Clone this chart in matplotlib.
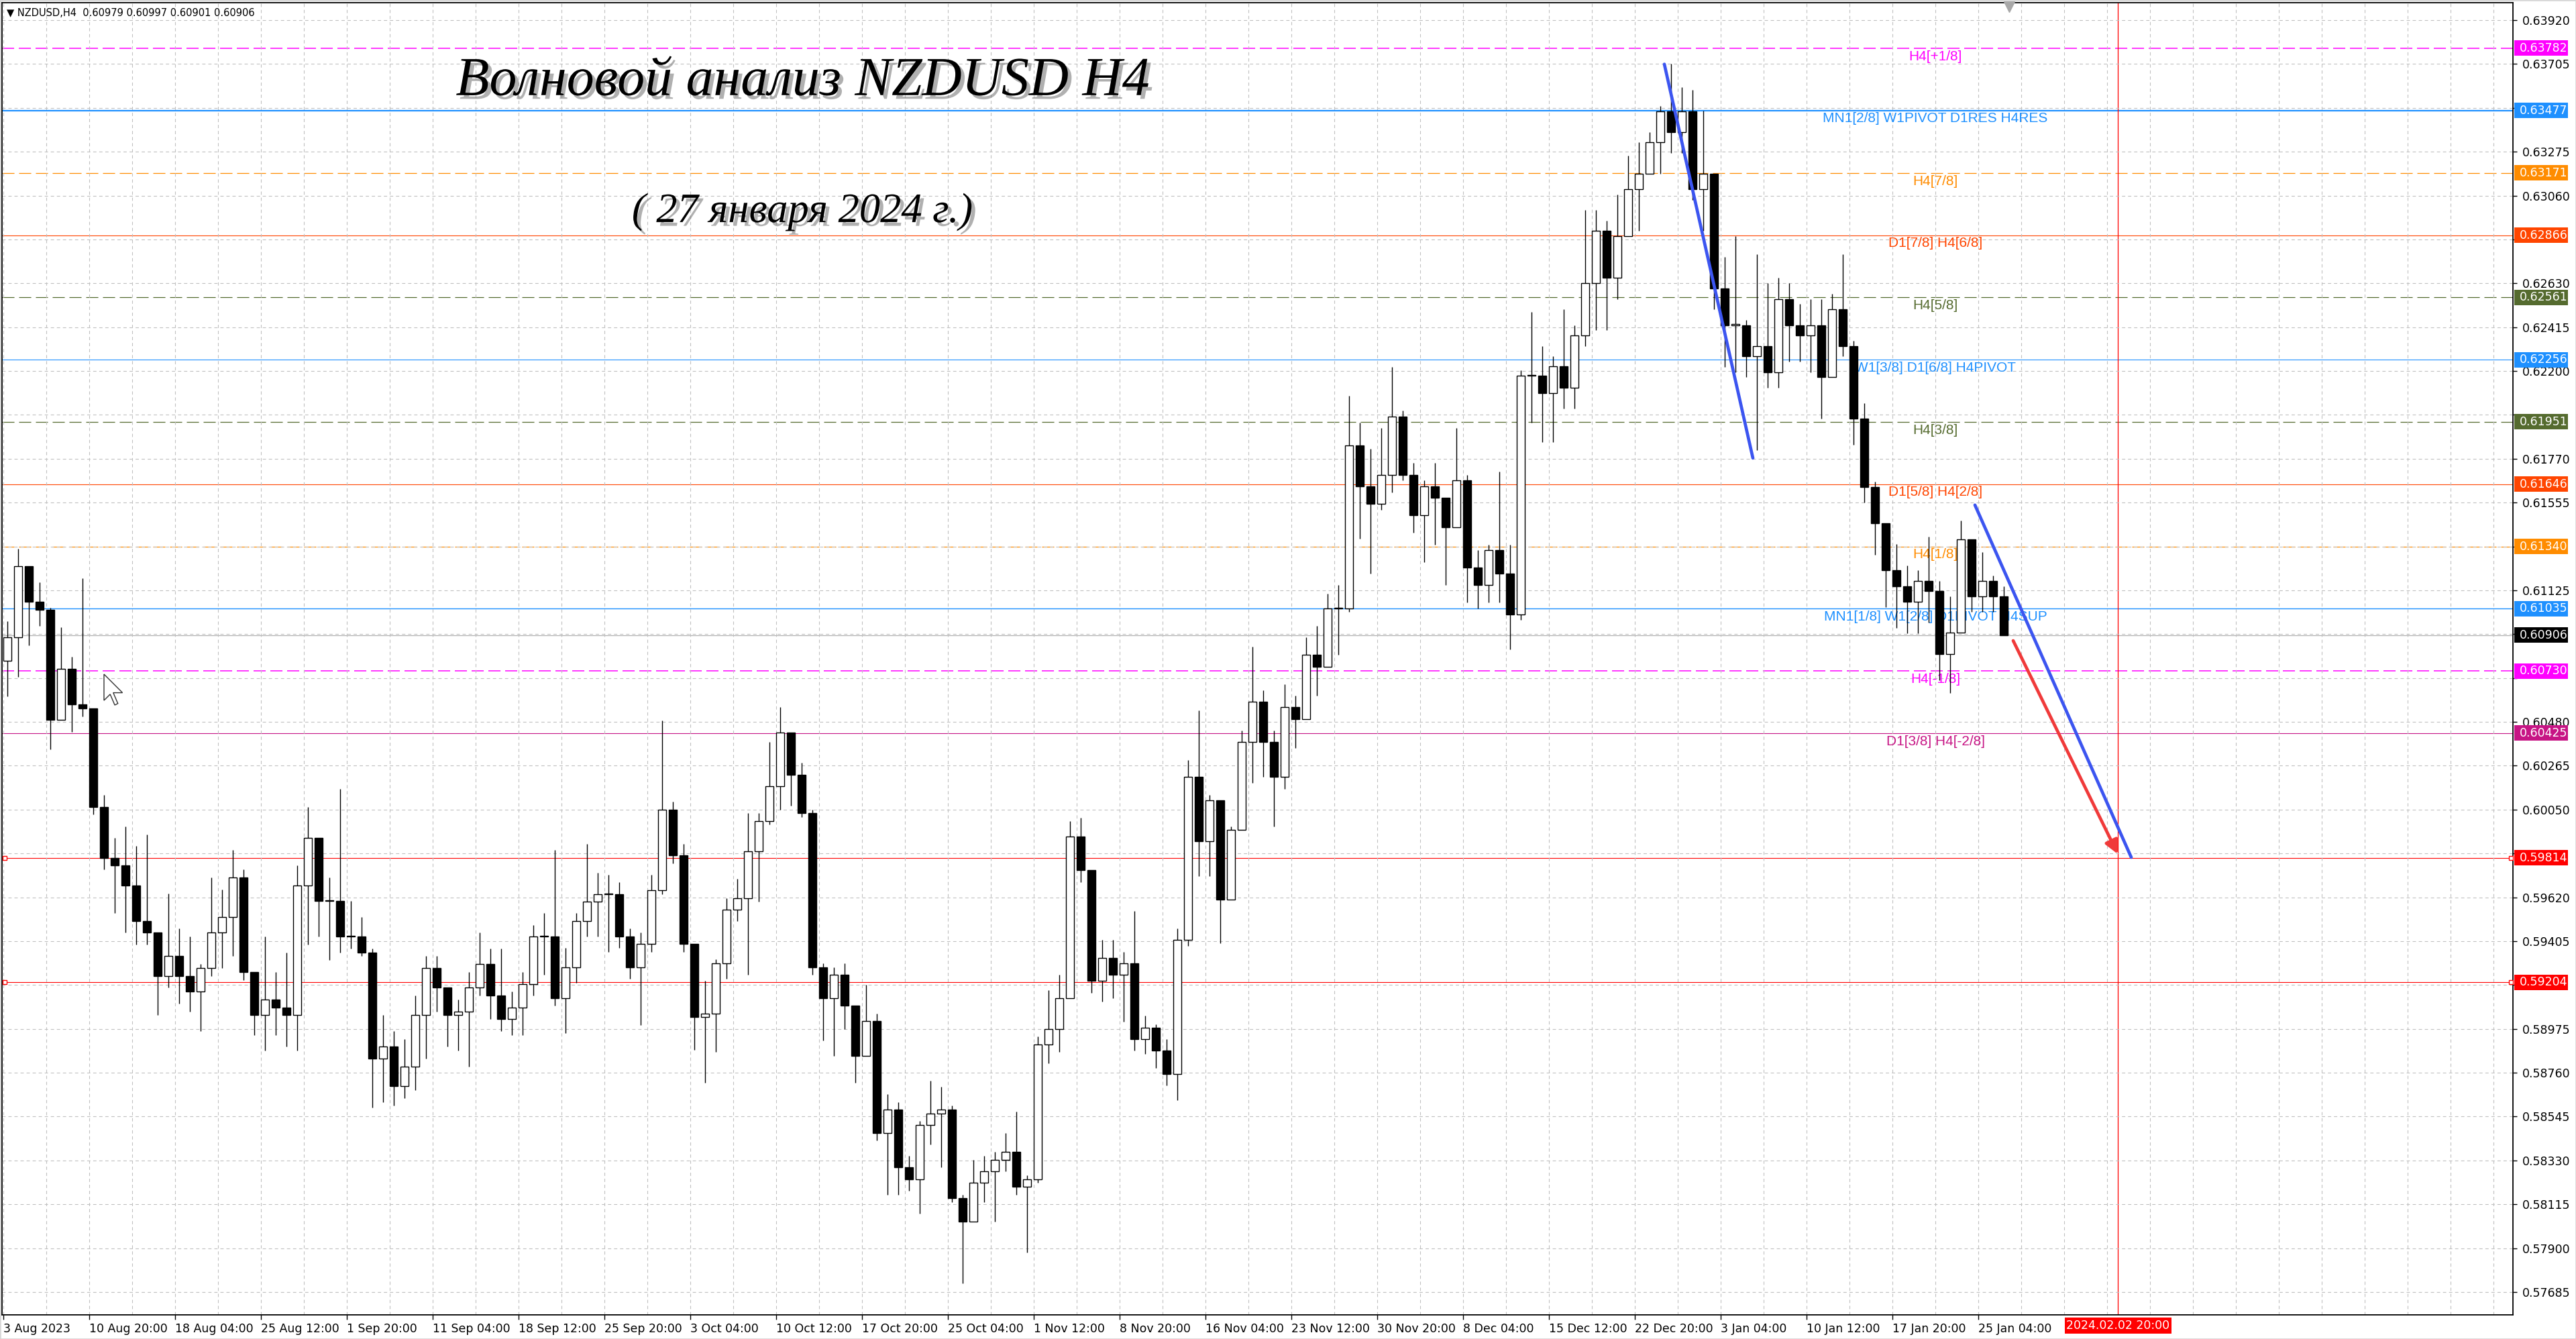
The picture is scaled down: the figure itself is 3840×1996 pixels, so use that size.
import matplotlib.pyplot as plt
import matplotlib.patheffects as pe
from matplotlib.patches import Rectangle, Polygon
from matplotlib.transforms import blended_transform_factory

plt.rcParams['lines.scale_dashes'] = False

# H4 candles, grouped by 4 bars (x = bar index)
first_open = 0.60779
closes = [
    .60894, .61242, .61068, .61029, .60489, .60740, .60566, .60547, .60064, .59814,
    .59775, .59678, .59505, .59447, .59235, .59331, .59235, .59157, .59273, .59447,
    .59524, .59717, .59254, .59042, .59119, .59080, .59042, .59678, .59910, .59601,
    .59601, .59428, .59428, .59350, .58829, .58887, .58694, .58791, .59042, .59273,
    .59177, .59042, .59061, .59177, .59292, .59138, .59022, .59080, .59196, .59428,
    .59428, .59126, .59277, .59504, .59598, .59636, .59636, .59428, .59277, .59391,
    .59655, .60051, .59825, .59391, .59032, .59051, .59296, .59561, .59617, .59844,
    .59995, .60165, .60429, .60221, .60033, .59277, .59126, .59240, .59089, .58843,
    .59013, .58466, .58579, .58296, .58239, .58503, .58560, .58579, .58145, .58031,
    .58220, .58277, .58333, .58371, .58201, .58239, .58900, .58975, .59126, .59919,
    .59752, .59210, .59324, .59239, .59296, .58925, .58982, .58868, .58754, .59410,
    .60209, .59895, .60094, .59610, .59952, .60380, .60579, .60380, .60209, .60551,
    .60494, .60808, .60750, .61036, .61036, .61834, .61635, .61549, .61692, .61977,
    .61692, .61492, .61635, .61577, .61435, .61663, .61235, .61150, .61321, .61207,
    .61007, .62176, .62176, .62093, .62222, .62118, .62374, .62630, .62886, .62656,
    .62860, .63091, .63167, .63321, .63474, .63372, .63474, .63091, .63167, .62604,
    .62425, .62425, .62272, .62323, .62195, .62553, .62425, .62374, .62425, .62170,
    .62502, .62323, .61965, .61632, .61453, .61223, .61146, .61069, .61172, .61120,
    .60813, .60916, .61376, .61095, .61172, .61095, .60906,
]
highs = [
    .60972, .61329, .61165, .61165, .61039, .60943, .60798, .61184, .60547, .60122,
    .59910, .59968, .59871, .59929, .59428, .59640, .59466, .59428, .59292, .59717,
    .59659, .59852, .59756, .59254, .59428, .59254, .59350, .59775, .60064, .59756,
    .59717, .60151, .59601, .59524, .59370, .59042, .58964, .58926, .59138, .59331,
    .59331, .59177, .59119, .59254, .59447, .59370, .59370, .59157, .59254, .59485,
    .59542, .59853, .59372, .59542, .59882, .59740, .59730, .59693, .59466, .59447,
    .59730, .60486, .60089, .59882, .59391, .59211, .59315, .59617, .59712, .60033,
    .60033, .60382, .60552, .60410, .60278, .60051, .59296, .59277, .59296, .59089,
    .59192, .59051, .58654, .58617, .58352, .58522, .58720, .58692, .58598, .58163,
    .58333, .58352, .58371, .58466, .58569, .58258, .58938, .59164, .59240, .59995,
    .60009, .59667, .59410, .59410, .59353, .59553, .59039, .58996, .58925, .59467,
    .60294, .60537, .60123, .59895, .59966, .60437, .60850, .60636, .60437, .60665,
    .60608, .60893, .60950, .61107, .61150, .62077, .61948, .61820, .61920, .62219,
    .62005, .61749, .61663, .61749, .61549, .61920, .61692, .61321, .61349, .61706,
    .61349, .62205, .62490, .62323, .62272, .62502, .62425, .62988, .62988, .62937,
    .63065, .63257, .63321, .63372, .63500, .63705, .63590, .63577, .63475, .63167,
    .62758, .62860, .62451, .62771, .62630, .62656, .62630, .62528, .62553, .62553,
    .62579, .62771, .62349, .62041, .61658, .61351, .61351, .61248, .61223, .61389,
    .61171, .61095, .61466, .61351, .61312, .61197, .61146,
]
lows = [
    .60605, .60701, .60856, .60952, .60344, .60489, .60431, .60508, .60026, .59756,
    .59543, .59447, .59389, .59389, .59042, .59177, .59099, .59061, .58964, .59235,
    .59273, .59331, .59215, .58945, .58868, .58945, .58887, .58868, .59389, .59428,
    .59312, .59350, .59370, .59331, .58588, .58617, .58598, .58636, .58675, .58829,
    .59061, .58887, .58868, .58791, .59138, .59022, .58964, .58945, .58945, .59138,
    .59240, .59089, .58956, .59202, .59428, .59428, .59353, .59372, .59221, .58994,
    .59353, .59636, .59787, .59353, .58872, .58711, .58862, .59221, .59504, .59240,
    .59598, .59976, .60051, .60070, .60014, .59240, .58919, .58843, .58975, .58711,
    .58843, .58428, .58163, .58163, .58182, .58069, .58409, .58296, .58126, .57729,
    .58069, .58126, .58031, .58277, .58163, .57880, .58220, .58806, .58862, .59126,
    .59695, .59153, .59110, .59125, .59011, .58868, .58854, .58783, .58697, .58626,
    .59381, .59724, .59724, .59396, .59638, .60037, .60180, .60209, .59966, .60151,
    .60351, .60522, .60608, .60750, .60808, .61021, .61378, .61207, .61520, .61606,
    .61663, .61406, .61264, .61349, .61150, .61435, .61064, .61036, .61064, .61064,
    .60836, .60979, .61948, .61850, .61850, .62016, .62016, .62323, .62400, .62400,
    .62553, .62860, .62886, .63167, .63167, .63270, .63270, .63039, .62886, .62502,
    .62221, .62195, .62169, .61811, .62118, .62118, .62246, .62246, .62195, .61965,
    .62170, .62272, .61837, .61555, .61299, .61043, .60941, .60915, .60915, .60967,
    .60685, .60621, .60941, .61018, .61018, .61018, .60903,
]

price_ticks = [0.57685 + 0.00215 * i for i in range(30)]
time_labels = [
    "3 Aug 2023", "10 Aug 20:00", "18 Aug 04:00", "25 Aug 12:00", "1 Sep 20:00",
    "11 Sep 04:00", "18 Sep 12:00", "25 Sep 20:00", "3 Oct 04:00", "10 Oct 12:00",
    "17 Oct 20:00", "25 Oct 04:00", "1 Nov 12:00", "8 Nov 20:00", "16 Nov 04:00",
    "23 Nov 12:00", "30 Nov 20:00", "8 Dec 04:00", "15 Dec 12:00", "22 Dec 20:00",
    "3 Jan 04:00", "10 Jan 12:00", "17 Jan 20:00", "25 Jan 04:00",
]

# Murrey / pivot levels: price, colour, style, width, label
level_prices = [0.63782, 0.63477, 0.63171, 0.62866, 0.62561, 0.62256, 0.61951,
                0.61646, 0.61340, 0.61035, 0.60730, 0.60425, 0.59814, 0.59204]
level_colors = ['#FF00FF', '#1E90FF', '#FF8C00', '#FF4500', '#556B2F', '#1E90FF', '#556B2F',
                '#FF4500', '#FF8C00', '#1E90FF', '#FF00FF', '#C71585', '#FF0000', '#FF0000']
level_dashed = [True, False, True, False, True, False, True,
                False, True, False, True, False, False, False]
level_widths = [1.1, 1.6, 0.9, 0.8, 0.9, 0.8, 0.9, 0.8, 0.9, 1.0, 1.1, 0.8, 0.8, 0.8]
level_labels = ["H4[+1/8]", "MN1[2/8] W1PIVOT D1RES H4RES", "H4[7/8]", "D1[7/8] H4[6/8]",
                "H4[5/8]", "W1[3/8] D1[6/8] H4PIVOT", "H4[3/8]", "D1[5/8] H4[2/8]",
                "H4[1/8]", "MN1[1/8] W1[2/8] D1PIVOT H4SUP", "H4[-1/8]", "D1[3/8] H4[-2/8]",
                "", ""]
bid = 0.60906

wave_line_1 = ([619, 652], [0.63704, 0.61773])
wave_line_2 = ([734.75, 793], [0.61543, 0.59816])
forecast_arrow = ([749, 788], [0.60878, 0.59832])
future_bar = 788

fig = plt.figure(figsize=(38.4, 19.96), dpi=100)
ax = fig.add_axes([3 / 3840, 1 - 1960 / 1996, 3743 / 3840, 1956 / 1996])
ax.set_xlim(-0.5, 935.25)
ax.set_ylim(0.575732, 0.640055)

# grid: labels every 32 bars, grid every 16 bars
major_x = [32 * i for i in range(len(time_labels))]
minor_x = [g for g in range(16, 936, 16) if g not in major_x]
ax.set_xticks(major_x)
ax.set_xticks(minor_x, minor=True)
ax.set_yticks(price_ticks)
ax.grid(True, which='both', color='#C0C0C0', lw=0.8, ls=(0, (3.5, 3.0)), zorder=0)

# levels
n = len(closes)
for p, c, d, w, lab in zip(level_prices, level_colors, level_dashed, level_widths, level_labels):
    ax.axhline(p, color=c, lw=w, ls=(0, (13, 5)) if d else '-', zorder=1)
    if lab:
        ax.annotate(lab, xy=(720, p), xytext=(0, -2), textcoords='offset points',
                    ha='center', va='top', color=c, fontsize=15,
                    family='Liberation Sans', zorder=2)
ax.axhline(bid, color='#B0B0B0', lw=0.9, zorder=1)
for p in (0.59814, 0.59204):
    ax.plot([0.5, 934.5], [p, p], ls='none', marker='s', ms=4.5, mfc='white',
            mec='#FF0000', mew=1.0, zorder=3, clip_on=False)
ax.axvline(future_bar, color='#FF0000', lw=0.9, zorder=1)

# candles
opens = [first_open] + closes[:-1]
xs = [4 * k + 1.5 for k in range(n)]
for x, o, h, l, c in zip(xs, opens, highs, lows, closes):
    h = max(h, o, c)
    l = min(l, o, c)
    ax.vlines(x, l, h, color='black', lw=1.0, zorder=4)
    bottom = min(o, c)
    height = max(abs(c - o), 0.00004)
    face = 'white' if c >= o else 'black'
    ax.bar(x, height, width=3.0, bottom=bottom, color=face, edgecolor='black',
           linewidth=1.0, zorder=5)

# wave lines and forecast
ax.plot(*wave_line_1, color='#3C55F0', lw=3.4, solid_capstyle='round', zorder=6)
ax.plot(*wave_line_2, color='#3C55F0', lw=3.4, solid_capstyle='round', zorder=6)
ax.annotate('', xy=(forecast_arrow[0][1], forecast_arrow[1][1]),
            xytext=(forecast_arrow[0][0], forecast_arrow[1][0]),
            arrowprops=dict(arrowstyle='-|>', color='#F03A3A', lw=3.4,
                            mutation_scale=30, shrinkA=0, shrinkB=0), zorder=6)

# axes look
for s in ax.spines.values():
    s.set_color('black')
    s.set_linewidth(1.3)
ax.yaxis.tick_right()
px_per_price = 1956 / (0.640055 - 0.575732)
box_prices = level_prices + [bid]
ytick_text = []
for v in price_ticks:
    hidden = min(abs(v - b) for b in box_prices) * px_per_price < 11
    ytick_text.append("" if hidden else f"{v:.5f}")
ax.set_yticklabels(ytick_text)
ax.set_xticklabels(time_labels, ha='left')
ax.tick_params(axis='y', which='major', length=4, width=1, pad=6, labelsize=12.5)
ax.tick_params(axis='x', which='major', length=5, width=1, pad=4, labelsize=12.5)
ax.tick_params(which='minor', length=0)

# coloured price boxes on the right scale
ty = blended_transform_factory(ax.transAxes, ax.transData)
box_h = 23 / px_per_price
for p, c in list(zip(level_prices, level_colors)) + [(bid, 'black')]:
    ax.add_patch(Rectangle((1.00053, p - box_h / 2), 0.02138, box_h, transform=ty,
                           facecolor=c, edgecolor='none', clip_on=False, zorder=8))
    ax.text(1.0027, p, f"{p:.5f}", transform=ty, va='center', ha='left', color='white',
            fontsize=12.5, clip_on=False, zorder=9)

# date box for the vertical line
tx = blended_transform_factory(ax.transData, ax.transAxes)
ax.add_patch(Rectangle((768.25, -0.0145), 39.75, 0.0122, transform=tx, facecolor='#FF0000',
                       edgecolor='none', clip_on=False, zorder=8))
ax.text(future_bar, -0.0084, "2024.02.02 20:00", transform=tx, ha='center', va='center',
        color='white', fontsize=12.5, clip_on=False, zorder=9)
ax.plot([747.5], [0.997], transform=tx, marker='v', ms=11, color='#A8A8A8',
        clip_on=False, zorder=9)

# mouse pointer left on the chart
cursor = [(0, 0), (0, 17), (4, 13), (7, 20), (9, 19), (6, 12), (12, 12)]
cursor_px = [(155 + 2.3 * cx, 1996 - (1005 + 2.3 * cy)) for cx, cy in cursor]
fig.patches.append(Polygon([(a / 3840, b / 1996) for a, b in cursor_px], closed=True,
                           transform=fig.transFigure, facecolor='white',
                           edgecolor='#303030', lw=1.0, zorder=10))

# header and titles
fig.text(10 / 3840, 1 - 19 / 1996, "\u25bc NZDUSD,H4  0.60979 0.60997 0.60901 0.60906",
         fontsize=10.5, va='center', ha='left')
shadow = [pe.SimplePatchShadow(offset=(4, -4), shadow_rgbFace='#707070', alpha=0.55),
          pe.Normal()]
fig.text(1197 / 3840, 1 - 122 / 1996, "Волновой анализ NZDUSD H4", fontsize=59,
         family='Liberation Serif', style='italic', ha='center', va='center',
         path_effects=shadow)
fig.text(1196 / 3840, 1 - 316 / 1996, "( 27 января 2024 г.)", fontsize=45,
         family='Liberation Serif', style='italic', ha='center', va='center',
         path_effects=shadow)

fig.patches.append(Rectangle((0, 0), 1, 1, transform=fig.transFigure, fill=False,
                             edgecolor='#D8D8D8', lw=2))

fig.savefig("out.png", dpi=100, facecolor='white')
